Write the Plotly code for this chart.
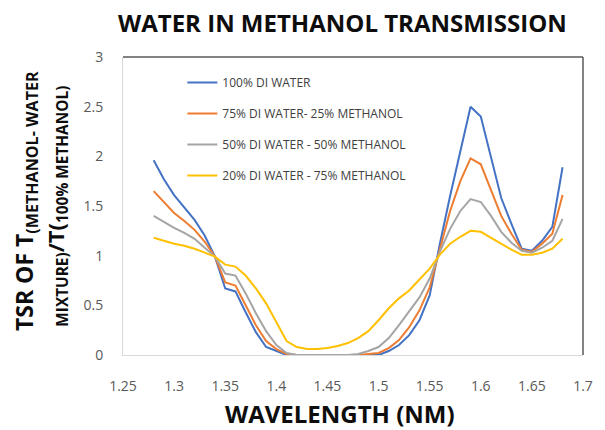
import plotly.graph_objects as go

wavelength = [1.28, 1.29, 1.30, 1.31, 1.32, 1.33, 1.34, 1.35, 1.36, 1.37,
              1.38, 1.39, 1.40, 1.41, 1.42, 1.43, 1.44, 1.45, 1.46, 1.47,
              1.48, 1.49, 1.50, 1.51, 1.52, 1.53, 1.54, 1.55, 1.56, 1.57,
              1.58, 1.59, 1.60, 1.61, 1.62, 1.63, 1.64, 1.65, 1.66, 1.67, 1.68]

water_100 = [1.96, 1.77, 1.61, 1.49, 1.36, 1.20, 0.99, 0.67, 0.64, 0.43,
             0.23, 0.08, 0.04, 0.00, 0.00, 0.00, 0.00, 0.00, 0.00, 0.00,
             0.00, 0.00, 0.00, 0.04, 0.10, 0.20, 0.35, 0.60, 1.12, 1.60,
             2.05, 2.50, 2.40, 1.98, 1.58, 1.32, 1.07, 1.05, 1.15, 1.29, 1.89]

water_75 = [1.65, 1.54, 1.43, 1.35, 1.26, 1.14, 0.99, 0.73, 0.70, 0.50,
            0.30, 0.14, 0.06, 0.01, 0.00, 0.00, 0.00, 0.00, 0.00, 0.00,
            0.00, 0.01, 0.02, 0.07, 0.15, 0.28, 0.45, 0.68, 1.08, 1.45,
            1.75, 1.98, 1.92, 1.65, 1.40, 1.22, 1.06, 1.04, 1.12, 1.22, 1.61]

water_50 = [1.40, 1.34, 1.28, 1.23, 1.17, 1.08, 0.99, 0.82, 0.80, 0.62,
            0.42, 0.24, 0.10, 0.02, 0.00, 0.00, 0.00, 0.00, 0.00, 0.00,
            0.01, 0.04, 0.08, 0.17, 0.30, 0.44, 0.58, 0.77, 1.04, 1.27,
            1.45, 1.57, 1.54, 1.40, 1.24, 1.13, 1.05, 1.03, 1.08, 1.15, 1.37]

water_20 = [1.18, 1.15, 1.12, 1.10, 1.07, 1.03, 0.99, 0.91, 0.89, 0.80,
            0.67, 0.52, 0.33, 0.14, 0.08, 0.06, 0.06, 0.07, 0.09, 0.12,
            0.17, 0.24, 0.35, 0.47, 0.57, 0.65, 0.76, 0.87, 1.01, 1.12,
            1.19, 1.25, 1.24, 1.18, 1.12, 1.06, 1.01, 1.01, 1.03, 1.07, 1.17]

series_names = ["100% DI WATER", "75% DI WATER- 25% METHANOL",
                "50% DI WATER - 50% METHANOL", "20% DI WATER - 75% METHANOL"]
series_values = [water_100, water_75, water_50, water_20]
series_colors = ["#4472C4", "#ED7D31", "#A5A5A5", "#FFC000"]

x_ticks = [1.25, 1.3, 1.35, 1.4, 1.45, 1.5, 1.55, 1.6, 1.65, 1.7]
x_tick_labels = ["1.25", "1.3", "1.35", "1.4", "1.45", "1.5", "1.55", "1.6", "1.65", "1.7"]
y_ticks = [0, 0.5, 1, 1.5, 2, 2.5, 3]
y_tick_labels = ["0", "0.5", "1", "1.5", "2", "2.5", "3"]

FONT = "Open Sans"

fig = go.Figure()
for i, (name, vals, col) in enumerate(zip(series_names, series_values, series_colors)):
    fig.add_trace(go.Scatter(x=wavelength, y=vals, mode="lines", name=name,
                             legendgroup=f"g{i}",
                             line=dict(color=col, width=2)))

L, R, T, B = 123, 17, 57, 75
W, H = 605, 430
pw, ph = W - L - R, H - T - B

def px_x(p):
    return (p - L) / pw

def px_y(p):
    return (H - B - p) / ph

fig.update_layout(
    width=W, height=H,
    margin=dict(l=L, r=R, t=T, b=B),
    paper_bgcolor="white", plot_bgcolor="white",
    font=dict(family=FONT, color="#595959"),
    showlegend=True,
    legend=dict(x=px_x(183), y=px_y(68), xanchor="left", yanchor="top",
                bgcolor="rgba(0,0,0,0)", tracegroupgap=12,
                font=dict(family=FONT, size=12, color="#404040")),
    xaxis=dict(range=[1.25, 1.7], tickvals=x_ticks, ticktext=x_tick_labels,
               showgrid=False, zeroline=False, showline=True,
               linecolor="#D9D9D9", linewidth=1,
               ticks="outside", ticklen=18, tickcolor="rgba(0,0,0,0)",
               tickfont=dict(size=14, color="#595959")),
    yaxis=dict(range=[0, 3], tickvals=y_ticks, ticktext=y_tick_labels,
               showgrid=False, zeroline=False, showline=True,
               linecolor="#D9D9D9", linewidth=1,
               ticks="outside", ticklen=16, tickcolor="rgba(0,0,0,0)",
               tickfont=dict(size=14, color="#595959")),
)

# plot-area border (top and right darker)
fig.add_shape(type="line", xref="paper", yref="paper", x0=0, x1=1, y0=1, y1=1,
              line=dict(color="#595959", width=1.5))
fig.add_shape(type="line", xref="paper", yref="paper", x0=1, x1=1, y0=0, y1=1,
              line=dict(color="#595959", width=1.5))

# title
fig.add_annotation(text="<b>WATER IN METHANOL TRANSMISSION</b>",
                   xref="paper", yref="paper", x=px_x(345), y=px_y(22),
                   xanchor="center", yanchor="middle", showarrow=False,
                   font=dict(family=FONT, size=24, color="#0D0D0D"))

# x-axis title
fig.add_annotation(text="<b>WAVELENGTH (NM)</b>",
                   xref="paper", yref="paper", x=px_x(342), y=px_y(413),
                   xanchor="center", yanchor="middle", showarrow=False,
                   font=dict(family=FONT, size=24, color="#0D0D0D"))

# y-axis title, two lines
fig.add_annotation(text="<b>TSR OF T<sub>(METHANOL- WATER</sub></b>",
                   xref="paper", yref="paper", x=px_x(24), y=px_y(201),
                   xanchor="center", yanchor="middle", showarrow=False,
                   textangle=-90,
                   font=dict(family=FONT, size=23, color="#0D0D0D"))
fig.add_annotation(text="<b><sub>MIXTURE)</sub>/T(<sub>100% METHANOL)</sub></b>",
                   xref="paper", yref="paper", x=px_x(56), y=px_y(206),
                   xanchor="center", yanchor="middle", showarrow=False,
                   textangle=-90,
                   font=dict(family=FONT, size=22, color="#0D0D0D"))

fig.write_html("out.html", config={"displayModeBar": False},
               post_script="document.body.style.margin='0';")
